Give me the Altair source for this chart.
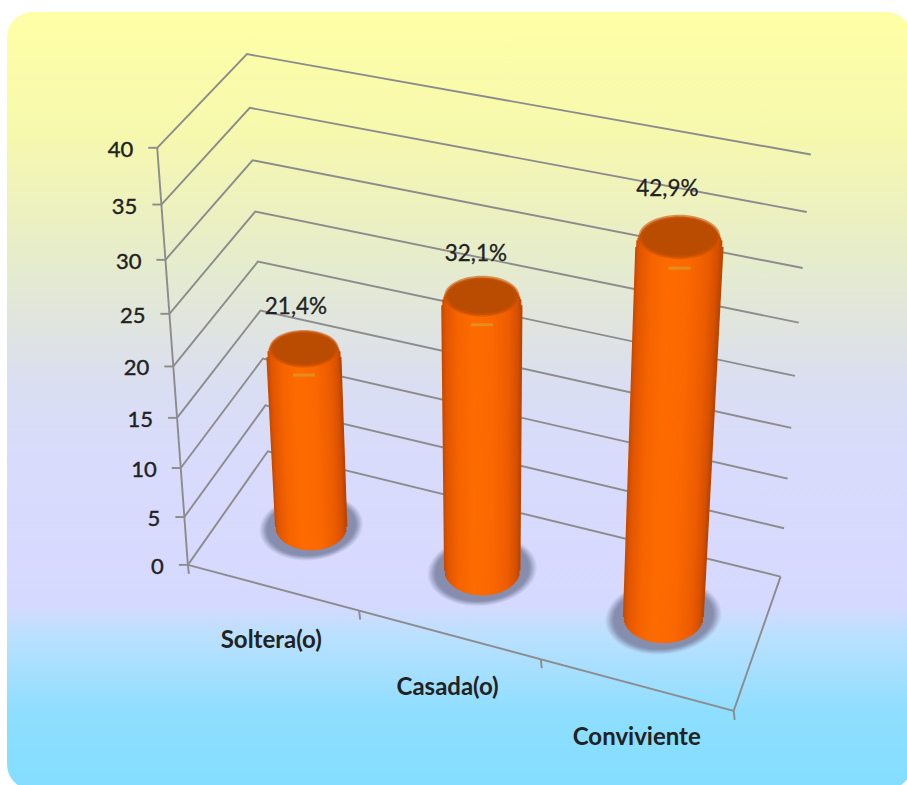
import altair as alt
import numpy as np
import pandas as pd

# Chart content
categories = ["Soltera(o)", "Casada(o)", "Conviviente"]
shares = [21.4, 32.1, 42.9]
axis_ticks = [0, 5, 10, 15, 20, 25, 30, 35, 40]

W, H = 907, 785
AXIS_MAX = 40
BAR_SCALE = 0.816  # cylinder height per labelled percentage point

# Calibration of the oblique box: (along categories, depth, value) -> canvas position
box_3d = [(0, 0, 0), (1, 0, 0), (1, 1, 0), (0, 1, 0), (0, 0, 40), (0, 1, 40), (1, 1, 40),
          (0, 0, 20), (0, 1, 20), (1, 1, 20)]
box_2d = [(188, 565), (733, 712), (780, 575), (268, 452), (157, 148), (247, 54), (810, 155),
          (174, 365), (257, 262), (797, 376)]


def fit_projection(src, dst):
    rows, rhs = [], []
    for (a, b, c), (x, y) in zip(src, dst):
        rows.append([a, b, c, 1, 0, 0, 0, 0, -x * a, -x * b, -x * c])
        rhs.append(x)
        rows.append([0, 0, 0, 0, a, b, c, 1, -y * a, -y * b, -y * c])
        rhs.append(y)
    p = np.linalg.lstsq(np.array(rows, float), np.array(rhs, float), rcond=None)[0]
    return np.append(p, 1.0).reshape(3, 4)


P = fit_projection(box_3d, box_2d)


def project(u, d, v):
    q = P @ np.array([u, d, v, 1.0])
    return q[0] / q[2], q[1] / q[2]


X = alt.X("x:Q", scale=alt.Scale(domain=[0, W], nice=False, zero=False), axis=None)
Y = alt.Y("y:Q", scale=alt.Scale(domain=[H, 0], nice=False, zero=False), axis=None)
X2 = alt.X2("x2:Q")
Y2 = alt.Y2("y2:Q")


def polyline_layer(paths, color="#8c8c8c", width=1.9, opacity=1.0):
    rows = []
    for i, pts in enumerate(paths):
        for j, (x, y) in enumerate(pts):
            rows.append({"path": i, "seq": j, "x": x, "y": y})
    return alt.Chart(pd.DataFrame(rows)).mark_line(
        stroke=color, strokeWidth=width, opacity=opacity, interpolate="linear"
    ).encode(x=X, y=Y, detail="path:N", order="seq:Q")


def ellipse_layer(items, aspect, color, opacity=1.0, tilt=0):
    # A filled ellipse symbol; its half width is half the square root of the size
    outline = f"M-1,0A1,{aspect} {tilt} 1 1 1,0A1,{aspect} {tilt} 1 1 -1,0Z"
    rows = [{"x": cx, "y": cy, "area": (2 * rx) ** 2} for cx, cy, rx in items]
    return alt.Chart(pd.DataFrame(rows)).mark_point(
        shape=outline, filled=True, fill=color, opacity=opacity, strokeWidth=0
    ).encode(x=X, y=Y, size=alt.Size("area:Q", scale=None))


# Panel with a vertical colour wash
panel = alt.Chart(pd.DataFrame([{"x": 7, "x2": 912, "y": 12, "y2": 790}])).mark_rect(
    cornerRadius=26,
    fill=alt.Gradient(
        gradient="linear", x1=0, x2=0, y1=0, y2=1,
        stops=[
            alt.GradientStop(offset=0.0, color="#FFFFA6"),
            alt.GradientStop(offset=0.16, color="#F6F8AE"),
            alt.GradientStop(offset=0.32, color="#E6ECCC"),
            alt.GradientStop(offset=0.48, color="#DADEF2"),
            alt.GradientStop(offset=0.58, color="#D9DBFC"),
            alt.GradientStop(offset=0.76, color="#D6D9FF"),
            alt.GradientStop(offset=0.80, color="#BCE0FF"),
            alt.GradientStop(offset=0.90, color="#8EDEFF"),
            alt.GradientStop(offset=1.0, color="#84DEFF"),
        ],
    ),
).encode(x=X, x2=X2, y=Y, y2=Y2)

# Walls and floor of the box
frame_paths = []
for v in axis_ticks:
    frame_paths.append([project(0, 0, v), project(0, 1, v), project(1, 1, v)])
frame_paths.append([project(0, 0, 0), project(0, 0, AXIS_MAX)])
frame_paths.append([project(0, 0, 0), project(1, 0, 0), project(1, 1, 0)])
for v in axis_ticks:
    x, y = project(0, 0, v)
    frame_paths.append([(x - 9, y), (x, y)])
for k in range(len(categories) + 1):
    x, y = project(k / len(categories), 0, 0)
    frame_paths.append([(x, y), (x + 1, y + 9)])
frame = polyline_layer(frame_paths)

# Cylinders
bar_u = [(i + 0.5) / len(categories) for i in range(len(categories))]
bar_d = [0.5, 0.5, 0.5]
RADIUS_U = 0.0705

shadow_items, dark_items, glow_paths = [], [], []
slices = []
shades = [(-1.0, "#C84A00"), (-0.9, "#E25600"), (-0.6, "#F66400"), (-0.2, "#FD6C00"),
          (0.3, "#FA6800"), (0.7, "#EC5C00"), (0.92, "#D55000"), (1.0, "#BC4600")]
ramp_t = [r[0] for r in shades]
ramp_rgb = np.array([[int(r[1][i:i + 2], 16) for i in (1, 3, 5)] for r in shades], float)


def ramp(t):
    c = [np.interp(t, ramp_t, ramp_rgb[:, i]) for i in range(3)]
    return "#%02x%02x%02x" % tuple(int(round(z)) for z in c)


for u, d, share in zip(bar_u, bar_d, shares):
    height = share * BAR_SCALE
    bx, by = project(u, d, 0)
    tx, ty = project(u, d, height)
    rx_b = abs(project(u + RADIUS_U, d, 0)[0] - project(u - RADIUS_U, d, 0)[0]) / 2
    rx_t = abs(project(u + RADIUS_U, d, height)[0] - project(u - RADIUS_U, d, height)[0]) / 2
    ry_b, ry_t = rx_b * 0.66, rx_t * 0.68
    shadow_items.append((bx, by, rx_b))
    for t in np.linspace(-1, 1, int(2 * rx_b) + 1):
        s = np.sqrt(max(0.0, 1 - t * t))
        slices.append({
            "x": bx + rx_b * t, "y": by + ry_b * s,
            "x2": tx + rx_t * t, "y2": ty - ry_t * s,
            "tone": ramp(t),
        })
    dark_items.append((tx, ty - ry_t * 0.34, rx_t))
    glow_paths.append([(tx - 11, ty + ry_t * 0.72), (tx + 11, ty + ry_t * 0.72)])

# Soft contact shadow: nested ellipses that darken towards the cylinder
shadow_steps = [(1.46, 0.14), (1.42, 0.18), (1.38, 0.24), (1.34, 0.32), (1.30, 0.42), (1.26, 0.55)]
shadows = [
    ellipse_layer([(x, y, r * k) for x, y, r in shadow_items], 0.64, "#7f86a6", op, -6)
    for k, op in shadow_steps
]
body = alt.Chart(pd.DataFrame(slices)).mark_rule(strokeWidth=2).encode(
    x=X, y=Y, x2=X2, y2=Y2, stroke=alt.Stroke("tone:N", scale=None)
)
caps = [
    ellipse_layer([(x, y, r * 0.95) for x, y, r in dark_items], 0.54, "#CF5200", 0.6),
    ellipse_layer([(x, y, r * 0.91) for x, y, r in dark_items], 0.52, "#C14E00", 0.8),
    ellipse_layer([(x, y, r * 0.86) for x, y, r in dark_items], 0.50, "#B94C00"),
]
glow = polyline_layer(glow_paths, color="#D8A030", width=3, opacity=0.65)

# Texts
FONT = "Lato"
INK = "#222222"
tick_rows = []
for v in axis_ticks:
    x, y = project(0, 0, v)
    tick_rows.append({"x": x - 24, "y": y + 2, "label": str(v)})
tick_text = alt.Chart(pd.DataFrame(tick_rows)).mark_text(
    font=FONT, fontSize=22, color=INK, stroke=INK, strokeWidth=0.4, align="right", baseline="middle"
).encode(x=X, y=Y, text="label:N")

cat_offsets = [(-1, 54), (-1, 53), (1, 53)]
cat_rows = []
for k, name in enumerate(categories):
    x, y = project(bar_u[k], 0, 0)
    cat_rows.append({"x": x + cat_offsets[k][0], "y": y + cat_offsets[k][1], "label": name})
cat_text = alt.Chart(pd.DataFrame(cat_rows)).mark_text(
    font=FONT, fontSize=24, fontWeight="bold", color=INK, align="center", baseline="middle"
).encode(x=X, y=Y, text="label:N")

val_offsets = [(-8, -50), (-6, -51), (-12, -58)]
val_rows = []
for k, share in enumerate(shares):
    x, y = project(bar_u[k], bar_d[k], share * BAR_SCALE)
    val_rows.append({"x": x + val_offsets[k][0], "y": y + val_offsets[k][1],
                     "label": f"{share:.1f}%".replace(".", ",")})
val_text = alt.Chart(pd.DataFrame(val_rows)).mark_text(
    font=FONT, fontSize=22.5, color=INK, stroke=INK, strokeWidth=0.3, align="center", baseline="middle"
).encode(x=X, y=Y, text="label:N")

chart = alt.layer(panel, frame, *shadows, body, *caps, glow, tick_text, cat_text, val_text).properties(
    width=W, height=H, padding=0, background="white", autosize=alt.AutoSizeParams(type="none")
).configure_view(stroke=None)

chart.save("out.html", embed_options={"renderer": "svg", "actions": False})
